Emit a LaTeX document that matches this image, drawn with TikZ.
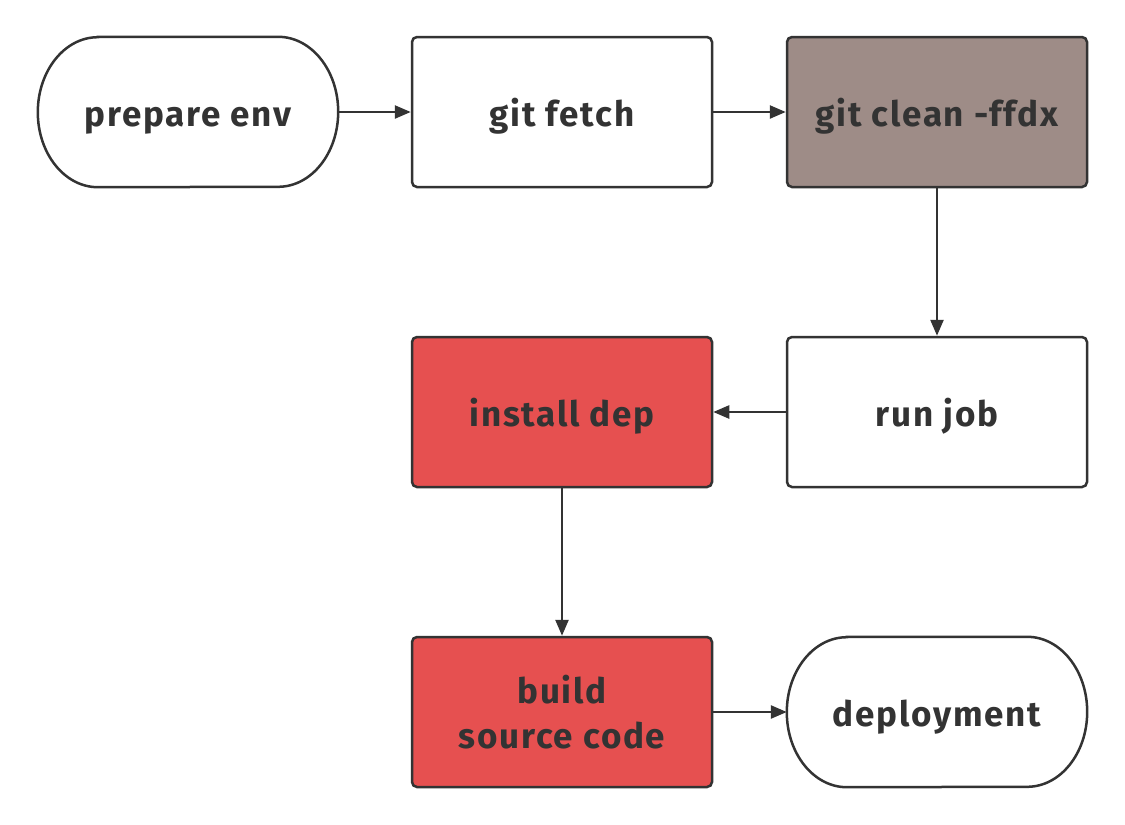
\documentclass[tikz,border=0pt]{standalone}
\usepackage{fontspec}
\setmainfont{Fira Sans}[LetterSpace=5]
\usetikzlibrary{arrows.meta}
\definecolor{ink}{HTML}{333333}
\definecolor{cleanfill}{HTML}{9E8C87}
\definecolor{redfill}{HTML}{E65050}
\tikzset{
  txt/.style={font=\fontsize{35}{45}\selectfont\bfseries, text=ink, align=center, inner sep=0pt},
  oneline/.style={text height=29pt, text depth=0pt},
  box/.style={txt, draw=ink, line width=2.5pt, rounded corners=5pt, minimum width=300pt, minimum height=150pt},
  pill/.style={txt, minimum width=300pt, minimum height=150pt},
  conn/.style={draw=ink, line width=2.5pt, -{Triangle[length=16pt,width=13pt]}}
}
\newcommand{\pillshape}[1]{%
  \draw[ink, line width=2.5pt] ([xshift=60pt]#1.north west) -- ([xshift=-60pt]#1.north east)
    arc[start angle=90, end angle=-90, x radius=60pt, y radius=75pt]
    -- ([xshift=60pt]#1.south west)
    arc[start angle=270, end angle=90, x radius=60pt, y radius=75pt] -- cycle;}
\begin{document}
\begin{tikzpicture}[x=1pt,y=1pt]
\useasboundingbox[fill=white] (0,0) rectangle (1125,-825);
\node[pill, oneline] (prep) at (188,-112) {prepare env};
\pillshape{prep}
\node[box, oneline, fill=white] (fetch) at (562,-112) {git fetch};
\node[box, oneline, fill=cleanfill] (clean) at (937,-112) {git clean -ffdx};
\node[box, oneline, fill=white] (run) at (937,-412) {run job};
\node[box, oneline, fill=redfill] (inst) at (562,-412) {install dep};
\node[box, fill=redfill] (build) at (562,-712) {build\\source code};
\node[pill, oneline] (deploy) at (937,-712) {deployment};
\pillshape{deploy}
\draw[conn] (prep) -- (fetch);
\draw[conn] (fetch) -- (clean);
\draw[conn] (clean) -- (run);
\draw[conn] (run) -- (inst);
\draw[conn] (inst) -- (build);
\draw[conn] (build) -- (deploy);
\end{tikzpicture}
\end{document}
